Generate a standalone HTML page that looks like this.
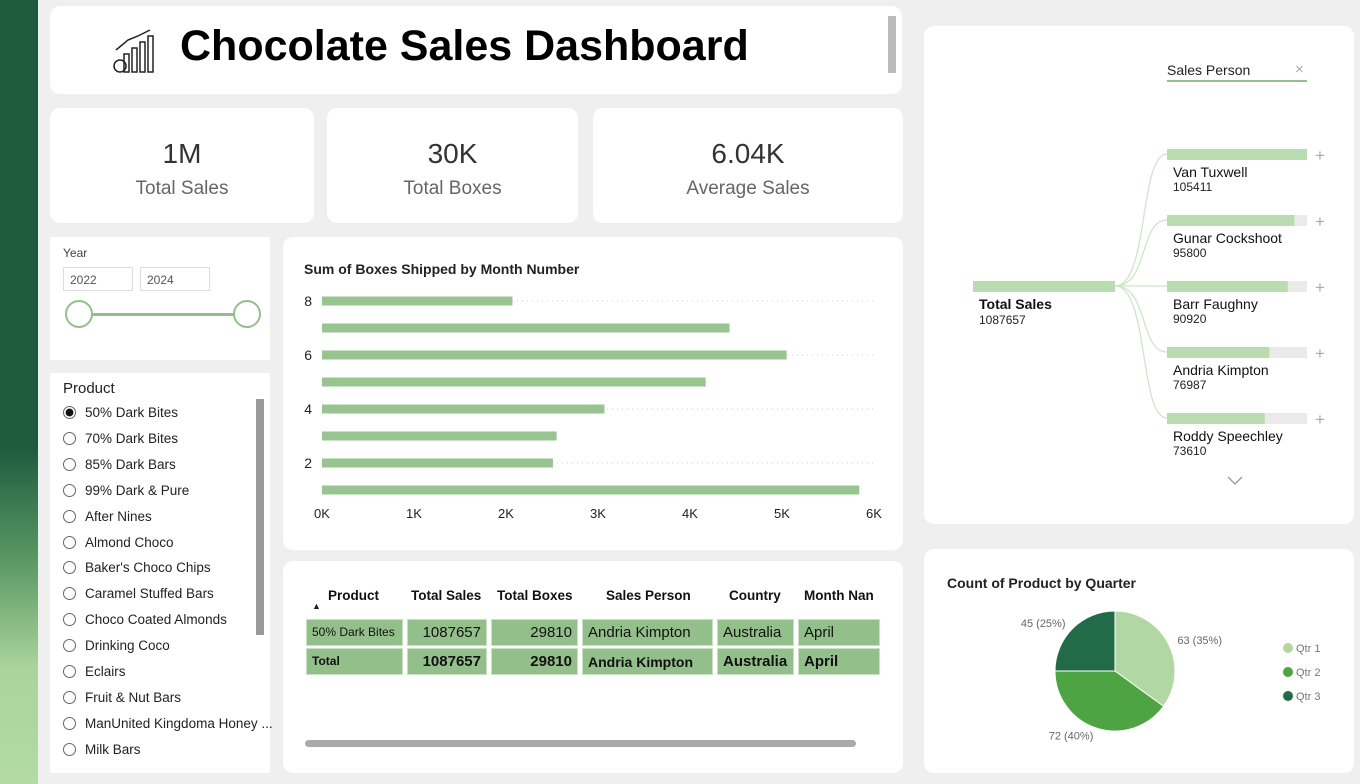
<!DOCTYPE html>
<html><head><meta charset="utf-8">
<style>
*{box-sizing:border-box;margin:0;padding:0}
body{width:1360px;height:784px;overflow:hidden;background:#efefef;font-family:"Liberation Sans",sans-serif;position:relative;color:#222}
.abs{position:absolute}
.card{position:absolute;background:#fff;border-radius:10px}
.kv{font-size:28px;color:#333;text-align:center;width:100%;position:absolute;top:30px}
.kl{font-size:19px;color:#666;text-align:center;width:100%;position:absolute;top:70px}
.item{position:absolute;left:63px;font-size:13.5px;color:#222;white-space:nowrap}
.item i{display:inline-block;width:13px;height:13px;border:1px solid #666;border-radius:50%;vertical-align:-2px;margin-right:9px}
.cell{position:absolute;background:#93c08a;border:1px solid #c9e0c3;font-size:15px;color:#111;line-height:26px;padding:0 5px;white-space:nowrap;overflow:hidden}
.th{position:absolute;top:588px;font-size:13.5px;font-weight:bold;color:#111;white-space:nowrap}
</style></head><body>
<div class="abs" style="left:0;top:0;width:38px;height:784px;background:linear-gradient(#1f5a3d 0,#1f5a3d 57%,#5d9a66 72%,#a9d49b 85%,#b3daa3 100%)"></div>

<div class="card" style="left:50px;top:6px;width:852px;height:88px">
  <svg class="abs" style="left:62px;top:22px" width="44" height="46" viewBox="0 0 44 46"><g fill="none" stroke="#222" stroke-width="1.5"><rect x="12" y="26" width="5" height="18"/><rect x="20" y="20" width="5" height="24"/><rect x="28" y="14" width="5" height="30"/><rect x="36" y="8" width="5" height="36"/><path d="M4 22 L16 12 L26 8 L38 2"/><circle cx="8" cy="38" r="6"/></g></svg>
  <div class="abs" style="left:130px;top:16px;font-size:43px;font-weight:bold;color:#000">Chocolate Sales Dashboard</div>
  <div class="abs" style="left:838px;top:10px;width:8px;height:57px;background:#bbb"></div>
</div>

<div class="card" style="left:50px;top:108px;width:264px;height:115px"><div class="kv">1M</div><div class="kl">Total Sales</div></div>
<div class="card" style="left:327px;top:108px;width:251px;height:115px"><div class="kv">30K</div><div class="kl">Total Boxes</div></div>
<div class="card" style="left:593px;top:108px;width:310px;height:115px"><div class="kv">6.04K</div><div class="kl">Average Sales</div></div>

<div class="card" style="left:50px;top:237px;width:220px;height:123px;border-radius:2px">
  <div class="abs" style="left:13px;top:9px;font-size:12px;color:#444">Year</div>
  <div class="abs" style="left:13px;top:30px;width:70px;height:24px;border:1px solid #ddd;font-size:12px;color:#555;padding:5px 6px">2022</div>
  <div class="abs" style="left:90px;top:30px;width:70px;height:24px;border:1px solid #ddd;font-size:12px;color:#555;padding:5px 6px">2024</div>
  <div class="abs" style="left:28px;top:76px;width:170px;height:3px;background:#93c08a"></div>
  <div class="abs" style="left:15px;top:63px;width:28px;height:28px;border:2px solid #93c08a;border-radius:50%;background:#fff"></div>
  <div class="abs" style="left:183px;top:63px;width:28px;height:28px;border:2px solid #93c08a;border-radius:50%;background:#fff"></div>
</div>

<div class="card" style="left:50px;top:373px;width:220px;height:400px;border-radius:2px"></div>
<div class="abs" style="left:63px;top:380px;font-size:15px;color:#222">Product</div>
<div class="abs" style="left:256px;top:399px;width:8px;height:236px;background:#999"></div>
<div id="plist"></div>

<div class="card" style="left:283px;top:237px;width:620px;height:313px"></div>
<svg class="abs" id="bars" style="left:283px;top:237px" width="620" height="313"></svg>

<div class="card" style="left:283px;top:561px;width:620px;height:212px"></div>
<div id="tbl"></div>
<div class="abs" style="left:305px;top:740px;width:551px;height:7px;border-radius:4px;background:#aaa"></div>

<div class="card" style="left:924px;top:26px;width:430px;height:498px"></div>
<div class="abs" style="left:1167px;top:62px;font-size:14px;color:#222">Sales Person</div>
<div class="abs" style="left:1295px;top:61px;font-size:15px;color:#aaa">×</div>
<div class="abs" style="left:1167px;top:80px;width:140px;height:2px;background:#93c08a"></div>
<svg class="abs" id="tree" style="left:924px;top:26px" width="430" height="498"></svg>

<div class="card" style="left:924px;top:549px;width:430px;height:224px"></div>
<svg class="abs" id="pie" style="left:924px;top:549px" width="430" height="224"></svg>

<script>
const NS='http://www.w3.org/2000/svg';
function mk(p,t,a,txt){const e=document.createElementNS(NS,t);for(const k in a)e.setAttribute(k,a[k]);if(txt!==undefined)e.textContent=txt;p.appendChild(e);return e;}

const products=["50% Dark Bites","70% Dark Bites","85% Dark Bars","99% Dark & Pure","After Nines","Almond Choco","Baker's Choco Chips","Caramel Stuffed Bars","Choco Coated Almonds","Drinking Coco","Eclairs","Fruit & Nut Bars","ManUnited Kingdoma Honey ...","Milk Bars"];
const pl=document.getElementById('plist');
products.forEach((p,i)=>{const d=document.createElement('div');d.className='item';d.style.top=(405+i*25.9)+'px';


d.innerHTML='<i style="'+(i==0?'background:radial-gradient(#111 45%,#fff 55%)':'')+'"></i>'+p.replace('&','&amp;');pl.appendChild(d);});

const months=[8,7,6,5,4,3,2,1];
const boxes=[2070,4430,5050,4170,3070,2550,2510,5840];
const xTicks=[0,1000,2000,3000,4000,5000,6000];
const xTickLabels=["0K","1K","2K","3K","4K","5K","6K"];
const yLabels=[8,6,4,2];
const bs=document.getElementById('bars');
const X=v=>39+v/6000*552, Y=m=>64+(8-m)*27;
mk(bs,'text',{x:21,y:37,'font-size':14,'font-weight':'bold',fill:'#222'},'Sum of Boxes Shipped by Month Number');
yLabels.forEach(m=>{mk(bs,'line',{x1:X(0),x2:X(6000),y1:Y(m),y2:Y(m),stroke:'#ccc','stroke-dasharray':'1 4'});
 mk(bs,'text',{x:29,y:Y(m)+5,'font-size':14,'text-anchor':'end',fill:'#222'},m);});
months.forEach((m,i)=>{const r=mk(bs,'rect',{x:X(0),y:Y(m)-4.5,width:X(boxes[i])-X(0),height:9,fill:'#98c48f'});

});
xTicks.forEach((t,i)=>mk(bs,'text',{x:X(t),y:281,'font-size':13,'text-anchor':'middle',fill:'#222'},xTickLabels[i]));

const tb=document.getElementById('tbl');
const cols=[[306,97,'Product','left'],[407,80,'Total Sales','right'],[491,87,'Total Boxes','right'],[582,131,'Sales Person','left'],[717,77,'Country','left'],[798,82,'Month Nan','left']];
const r1=['50% Dark Bites','1087657','29810','Andria Kimpton','Australia','April'];
const r2=['Total','1087657','29810','Andria Kimpton','Australia','April'];
const hx=[328,411,497,606,729,804];
cols.forEach((c,i)=>{
 const h=document.createElement('div');h.className='th';h.style.left=hx[i]+'px';h.textContent=c[2];
 
 tb.appendChild(h);
 [[r1,619,false],[r2,648,true]].forEach(([r,y,b])=>{const d=document.createElement('div');d.className='cell';
 
 
 d.style.cssText+=`left:${c[0]}px;top:${y}px;width:${c[1]}px;height:27px;text-align:${c[3]};font-weight:${b?'bold':'normal'};${i==0?'font-size:12px;line-height:24px;':''}${b&&i==3?'font-size:14px;':''}`;
 d.textContent=r[i];tb.appendChild(d);});});
const ar=document.createElement('div');ar.className='abs';ar.style.cssText='left:312px;top:601px;font-size:9px';ar.textContent='▲';tb.appendChild(ar);

const people=["Van Tuxwell","Gunar Cockshoot","Barr Faughny","Andria Kimpton","Roddy Speechley"];
const sales=[105411,95800,90920,76987,73610];
const total=1087657;
const tr=document.getElementById('tree');
mk(tr,'rect',{x:49,y:255,width:142,height:11,fill:'#b9dcb0'});
mk(tr,'text',{x:55,y:283,'font-size':14,'font-weight':'bold',fill:'#111'},'Total Sales');
mk(tr,'text',{x:55,y:298,'font-size':12,fill:'#222'},total);
const mx=Math.max(...sales);
people.forEach((p,i)=>{const y=123+i*66;
 mk(tr,'path',{d:`M191 260 C225 260 215 ${y+5} 243 ${y+5}`,fill:'none',stroke:'#cfe5c9','stroke-width':1.3});
 mk(tr,'rect',{x:243,y:y,width:140,height:11,fill:'#eaeaea'});
 const r=mk(tr,'rect',{x:243,y:y,width:140*sales[i]/mx,height:11,fill:'#b9dcb0'});
 
 
 mk(tr,'text',{x:249,y:y+28,'font-size':14,fill:'#111'},p);
 mk(tr,'text',{x:249,y:y+42,'font-size':12,fill:'#222'},sales[i]);
 mk(tr,'text',{x:396,y:y+12,'font-size':17,'text-anchor':'middle',fill:'#aaa'},'+');});
mk(tr,'path',{d:'M304 451 L311 458 L318 451',fill:'none',stroke:'#999','stroke-width':1.3});

const quarters=["Qtr 1","Qtr 2","Qtr 3"];
const counts=[63,72,45];
const colors=['#b1d8a2','#4ea343','#226b48'];
const pie=document.getElementById('pie');
mk(pie,'text',{x:23,y:39,'font-size':14,'font-weight':'bold',fill:'#222'},'Count of Product by Quarter');
const cx=191,cy=122,R=60,sum=counts.reduce((a,b)=>a+b,0);let a0=-Math.PI/2;
counts.forEach((c,i)=>{const a1=a0+c/sum*2*Math.PI;
 const p=mk(pie,'path',{d:`M${cx} ${cy} L${cx+R*Math.cos(a0)} ${cy+R*Math.sin(a0)} A${R} ${R} 0 ${a1-a0>Math.PI?1:0} 1 ${cx+R*Math.cos(a1)} ${cy+R*Math.sin(a1)} Z`,fill:colors[i],stroke:'#fff','stroke-width':1});
 
 
 const am=(a0+a1)/2, lx=cx+(R+10)*Math.cos(am), ly=cy+(R+8)*Math.sin(am);
 mk(pie,'text',{x:lx,y:ly+4,'font-size':11,fill:'#666','text-anchor':Math.cos(am)>0?'start':'end'},c+' ('+Math.round(c/sum*100)+'%)');
 mk(pie,'circle',{cx:364,cy:99+i*24,r:5,fill:colors[i]});
 mk(pie,'text',{x:372,y:103+i*24,'font-size':11,fill:'#777'},quarters[i]);
 a0=a1;});
</script>
</body></html>
